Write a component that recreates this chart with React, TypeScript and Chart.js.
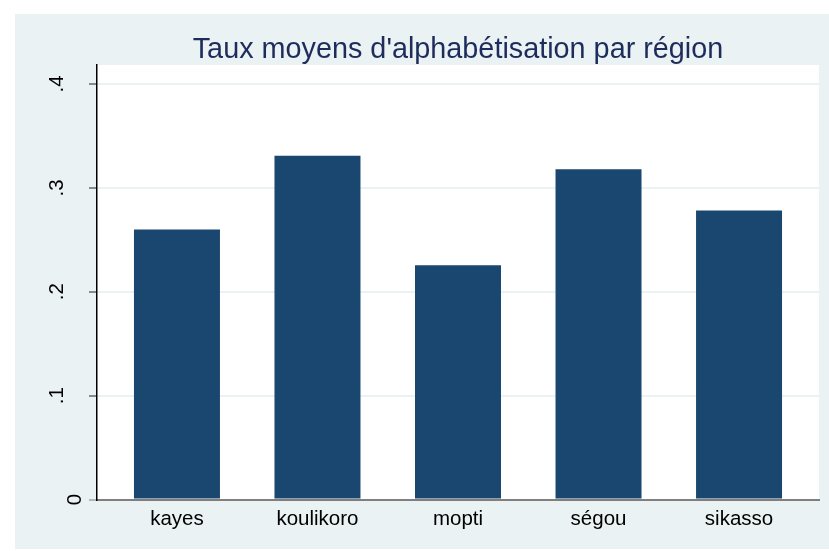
import React, { useEffect, useRef } from "react";
import { Chart, registerables } from "chart.js";

Chart.register(...registerables);

const categories: string[] = ["kayes", "koulikoro", "mopti", "ségou", "sikasso"];
const values: number[] = [0.260, 0.331, 0.2255, 0.318, 0.2783];
const yTickValues: number[] = [0, 0.1, 0.2, 0.3, 0.4];
const yTickLabels: string[] = ["0", ".1", ".2", ".3", ".4"];
const titleText = "Taux moyens d'alphabétisation par région";

const FONT = "'Liberation Sans', Arial, Helvetica, sans-serif";
const BG = "#EAF2F3";
const BAR = "#1A476F";

const backgroundPlugin = {
  id: "stataBackground",
  beforeDraw(chart: any) {
    const { ctx, chartArea } = chart;
    ctx.save();
    ctx.fillStyle = "#ffffff";
    ctx.fillRect(0, 0, chart.width, chart.height);
    ctx.fillStyle = BG;
    ctx.fillRect(15, 14, chart.width - 15, 535);
    ctx.fillStyle = "#ffffff";
    ctx.fillRect(chartArea.left, chartArea.top, chartArea.right - chartArea.left, chartArea.bottom - chartArea.top);
    ctx.restore();
  },
};

const yLabelPlugin = {
  id: "rotatedYLabels",
  afterDraw(chart: any) {
    const { ctx, chartArea } = chart;
    const y = chart.scales.y;
    ctx.save();
    ctx.fillStyle = "#000000";
    ctx.font = `20.5px ${FONT}`;
    ctx.textAlign = "center";
    ctx.textBaseline = "alphabetic";
    yTickValues.forEach((v, i) => {
      const label = yTickLabels[i];
      const py = y.getPixelForValue(v);
      const gap = label.startsWith(".") ? 34 : 16;
      ctx.save();
      ctx.translate(chartArea.left - gap, py);
      ctx.rotate(-Math.PI / 2);
      ctx.fillText(label, 0, 0);
      ctx.restore();
    });
    ctx.restore();
  },
};

export default function App() {
  const ref = useRef<HTMLCanvasElement | null>(null);

  useEffect(() => {
    if (!ref.current) return;
    const chart = new Chart(ref.current, {
      type: "bar",
      data: {
        datasets: [
          {
            data: categories.map((c, i) => ({ x: i + 1, y: values[i] })),
            backgroundColor: BAR,
            borderWidth: 0,
            categoryPercentage: 1,
            barPercentage: 0.612,
          },
        ],
      },
      options: {
        animation: false,
        responsive: false,
        devicePixelRatio: 1,
        layout: { padding: { top: 0, left: 0, right: 10, bottom: 0 } },
        plugins: {
          legend: { display: false },
          tooltip: { enabled: false },
          title: {
            display: true,
            text: titleText,
            fullSize: false,
            color: "#1e2c5c",
            font: { family: FONT, size: 28.8, weight: "normal", lineHeight: 1 },
            padding: { top: 35.2, bottom: 1 },
          },
        },
        scales: {
          x: {
            type: "linear",
            offset: false,
            min: 0.431,
            max: 5.569,
            afterFit: (s: any) => {
              s.height = 51.5;
            },
            afterBuildTicks: (s: any) => {
              s.ticks = categories.map((_, i) => ({ value: i + 1 }));
            },
            ticks: {
              callback: (v: any) => categories[Math.round(Number(v)) - 1] ?? "",
              color: "#000000",
              font: { family: FONT, size: 20.5 },
              padding: 8,
              maxRotation: 0,
              autoSkip: false,
            },
            grid: { display: false, drawTicks: false },
            border: { display: true, color: "#7f7f7f", width: 2 },
          },
          y: {
            type: "linear",
            min: 0,
            max: 0.4183,
            afterFit: (s: any) => {
              s.width = 97;
            },
            afterBuildTicks: (s: any) => {
              s.ticks = yTickValues.map((v) => ({ value: v }));
            },
            ticks: { display: false },
            grid: {
              display: true,
              drawTicks: true,
              tickLength: 8,
              lineWidth: 2,
              tickWidth: 1,
              color: (c: any) => (c.tick && c.tick.value === 0 ? "#7f7f7f" : "#EAF2F3"),
              tickColor: (c: any) => (c.tick && c.tick.value === 0 ? "#7f7f7f" : "#222222"),
            },
            border: { display: true, color: "#000000", width: 1.5 },
          },
        },
      },
      plugins: [backgroundPlugin, yLabelPlugin],
    } as any);
    return () => chart.destroy();
  }, []);

  return (
    <div style={{ position: "absolute", left: 0, top: 0, width: 829, height: 551 }}>
      <canvas ref={ref} width={829} height={551} />
    </div>
  );
}
